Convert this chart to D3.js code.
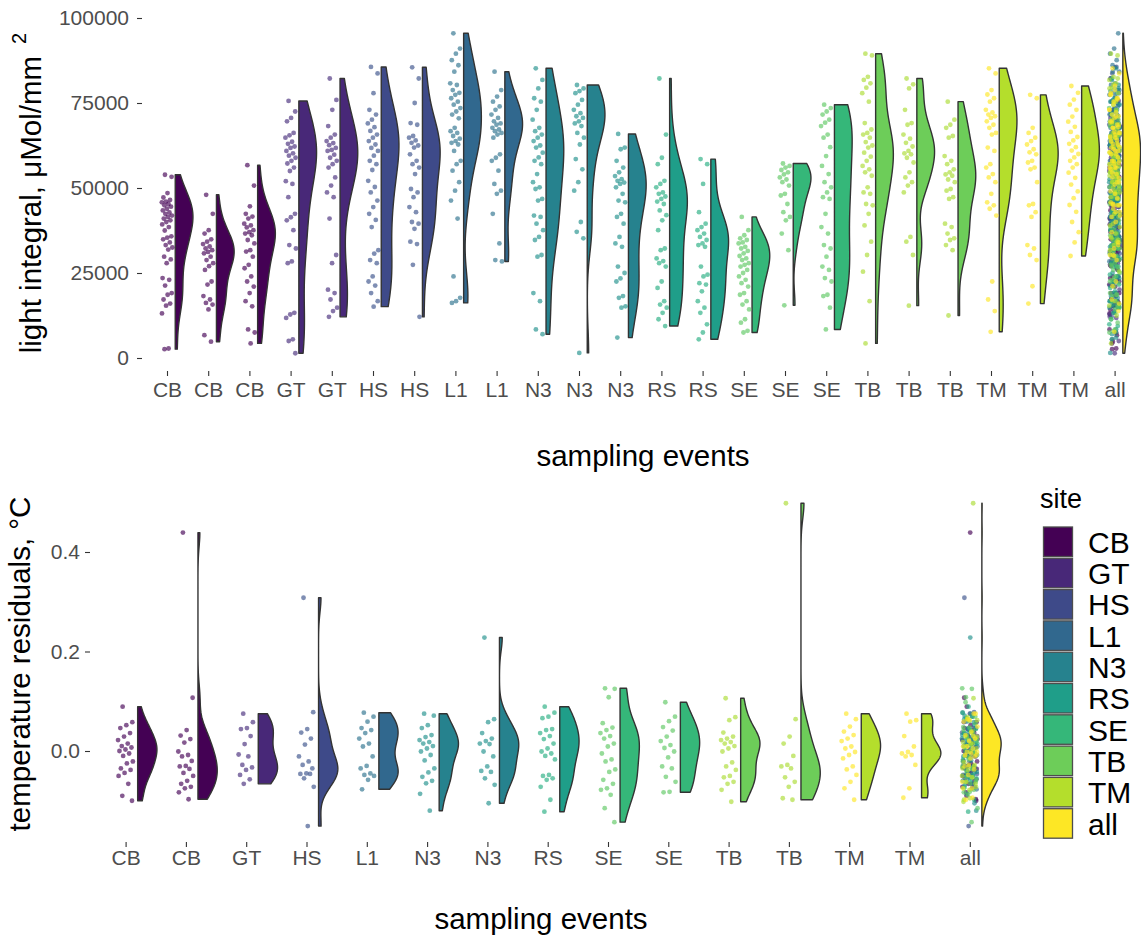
<!DOCTYPE html>
<html>
<head>
<meta charset="utf-8">
<script src="https://cdn.jsdelivr.net/npm/d3@7"></script>
<style>
  html, body { margin: 0; padding: 0; background: #ffffff; }
  svg { display: block; }
</style>
</head>
<body>
<svg id="chart" width="1141" height="937"></svg>
<script>
// ---------- sites and colours ----------
const sites = ["CB", "GT", "HS", "L1", "N3", "RS", "SE", "TB", "TM", "all"];
// violin fills: viridis over the ten legend entries
const fillColors = ["#440154", "#482878", "#3E4A89", "#31688E", "#26828E",
                    "#1F9E89", "#35B779", "#6DCD59", "#B4DE2C", "#FDE725"];
// point colours: viridis over the nine measured sites
const pointColors = ["#440154", "#472D7B", "#3B528B", "#2C728E", "#21908C",
                     "#27AD81", "#5DC863", "#AADC32", "#FDE725"];

// ---------- light integral per sampling event (thousands of µMol/mm²) ----------
const lightEvents = ["CB", "CB", "CB", "GT", "GT", "HS", "HS", "L1", "L1", "N3", "N3", "N3",
                     "RS", "RS", "SE", "SE", "SE", "TB", "TB", "TB", "TM", "TM", "TM"];
const lightCB1 = [53.9, 53.3, 48.5, 47.2, 46.5, 46, 45.8, 45.3, 44.9, 44.5, 43.9, 43.4, 42.8, 42.4, 41.9, 41.5, 41, 40.5, 40, 39.3, 38.5, 37.5, 35.8, 35.4, 34.9, 34, 33.2, 32.5, 31.9, 29.8, 29, 27.9, 23.5, 23, 21.3, 19.1, 18.6, 17.2, 16, 15.4, 13.1, 2.8, 2.6];
const lightCB2 = [48, 42.4, 37.6, 36.6, 34.9, 34.2, 33.5, 32.8, 32.2, 31.7, 31.2, 30.8, 29.8, 28.8, 27.9, 27, 25.9, 22.5, 21.6, 18.2, 17.2, 16.2, 15.7, 14.3, 6.7, 4.8];
const lightCB3 = [56.7, 50.7, 44.6, 42.4, 41.6, 41, 39.5, 39, 38.4, 37.6, 37, 36.6, 36.1, 34.7, 33.7, 31.7, 31.3, 29.8, 27.4, 26.4, 24, 22.5, 21, 19.1, 16.7, 15.2, 8.4, 7.5, 4.3];
const lightGT1 = [75.6, 72.5, 70.6, 69.6, 66.2, 65.5, 64.8, 63.6, 63, 62.2, 61.8, 60.9, 60.2, 59.5, 58.9, 58, 57.2, 56, 55, 52, 51.2, 47.3, 42.4, 41.4, 40.5, 37.6, 33.2, 32.2, 28.4, 27.9, 13.3, 12.8, 11.8, 5.5, 5, 1.4];
const lightGT2 = [82.2, 75.9, 73, 68.2, 65.7, 64.8, 63.8, 63.2, 62.6, 61.8, 61.2, 60.9, 59.8, 58.9, 58, 57, 56, 53.1, 50.7, 48.7, 47.3, 41, 30.3, 27.9, 20.1, 19.1, 17.2, 14.8, 13.8, 12.1];
const lightHS1 = [85.6, 83.7, 77.9, 73, 71.6, 70.1, 69, 67.9, 66.8, 65.7, 64.8, 63.8, 62.8, 61.8, 60.9, 59.5, 58, 57, 55.3, 52.1, 50.3, 48.7, 46.3, 44.4, 42.4, 40.6, 38.5, 31.7, 30.7, 28.8, 27.9, 24, 22.5, 21.3, 19.1, 16.7, 15.1];
const lightHS2 = [85.5, 82.2, 75, 69.1, 68.6, 65.3, 64.8, 64, 63.3, 62.5, 61.9, 59.9, 58, 57, 56, 54.1, 49.7, 48.7, 47.3, 44.4, 42.9, 40, 39.5, 38, 34.2, 33.5, 27.4, 12.1];
const lightL11 = [95.5, 91, 89.5, 87.6, 86.1, 84.2, 80.8, 80.3, 78.8, 78, 77.4, 76.4, 75.4, 74.5, 73.5, 72.5, 71.6, 70.5, 67.7, 66.7, 66.2, 65.3, 64.5, 63.8, 63.3, 62.8, 60.9, 58, 57, 55.1, 51.7, 49.2, 46.3, 41, 24, 17.7, 16.7, 16.2];
const lightL12 = [84.2, 78.8, 76.9, 75.4, 74, 73, 71.6, 70.6, 69.6, 69, 68.6, 67.7, 67.2, 66.7, 66.2, 65.7, 64.8, 59.9, 58.9, 58, 55.1, 51.2, 49.2, 48.3, 42.4, 33.7, 28.8, 28.4];
const lightN31 = [85.2, 81.8, 79.3, 76.4, 75.4, 73, 70.1, 67.7, 66.7, 65.7, 64.8, 63.8, 62.5, 61.9, 60.4, 59, 58, 57, 54.1, 51.7, 50.2, 49.7, 46.8, 46.3, 41.9, 41.5, 39.5, 37.6, 35.6, 34.7, 30.3, 29.8, 19.1, 16.7, 8.4, 7];
const lightN32 = [80.3, 79.3, 78.5, 77.9, 75.9, 74.5, 73, 72, 71.1, 70.6, 69.6, 69, 68.2, 66.2, 64.8, 62.8, 58.5, 55.5, 51.7, 49.2, 40, 37.1, 35.2, 1.5];
const lightN33 = [65.9, 61.9, 61.4, 58, 56, 54.6, 53.5, 52.6, 52.1, 51.6, 51.2, 50.2, 48.3, 46.3, 45.8, 42.4, 41.5, 39.5, 35.6, 33.7, 32.7, 26.9, 25, 23.4, 22.5, 18.2, 17.7, 15.2, 14.8, 6];
const lightRS1 = [82.2, 65.7, 58.9, 57, 52.1, 51.2, 50.2, 48.7, 48.3, 47.5, 46.8, 46, 45.3, 43.4, 42, 40.5, 37.6, 32.2, 31.7, 29.3, 28.5, 27.9, 26.9, 22.5, 20.6, 16.7, 15.7, 14.8, 13.3, 11.4, 9.4];
const lightRS2 = [58.5, 57, 51.2, 42.9, 39.5, 38.5, 37.6, 36.6, 35.6, 34.7, 33.7, 33.2, 32.7, 26.9, 24.5, 24, 22, 21.6, 19.6, 16.7, 14.8, 13.3, 9.9, 7.5, 5.5];
const lightSE1 = [41.5, 37.6, 36.1, 35.2, 34.7, 34, 33.7, 32.7, 32.2, 31.5, 30.8, 30, 29.3, 28.8, 27.9, 27.4, 26.9, 25.9, 25, 24, 23, 22, 21, 19.1, 18.6, 16.7, 15.7, 14.3, 11.4, 10.4, 8, 7.5];
const lightSE2 = [57.2, 56.5, 56, 55.3, 54.6, 54, 53.1, 52.5, 51.7, 50.7, 48.3, 47.8, 45.3, 42.9, 41.5, 40.5, 36.6, 31.7, 15.5];
const lightSE3 = [74.5, 73.5, 72.5, 71.6, 70.1, 69.2, 68.2, 65.7, 64.8, 62, 59.4, 56.5, 54.1, 51.7, 50.2, 48.7, 47.3, 46.8, 42.4, 38.5, 36.6, 33.2, 32.2, 29.8, 26.9, 25.9, 23.5, 22.5, 18.6, 18.2, 14.8, 8.4];
const lightTB1 = [89.5, 89, 82.7, 81.8, 80.8, 79.5, 77.9, 75.4, 69.1, 67.2, 66.2, 65.7, 64.8, 63.5, 62.5, 61.9, 60.4, 59.2, 58, 56.5, 55.5, 54.6, 53.6, 50.2, 48.7, 48.3, 45.3, 44.9, 42.4, 39, 34.2, 30.3, 25.4, 16.7, 4.3];
const lightTB2 = [82.2, 80.5, 79.3, 73, 69.1, 68.6, 65.7, 64.5, 63.3, 62.2, 60.9, 60.2, 59.9, 58.9, 57.5, 54.6, 53.1, 51.7, 50.7, 48.7, 35.6, 34.2, 30.3, 15.4];
const lightTB3 = [75.4, 70.1, 68.6, 67.7, 65.3, 64.8, 59.4, 58, 57, 55.5, 54.6, 54, 53.6, 52.5, 51.7, 49.7, 49.2, 47.3, 46.8, 39.5, 38.5, 36.6, 35.2, 34.7, 33.2, 31.7, 12.5];
const lightTM1 = [85.2, 83.7, 78.8, 77.5, 76.4, 75.4, 73, 72.2, 71.6, 71.1, 70.6, 69.6, 68.6, 67.7, 66.2, 65.7, 61.9, 60.9, 57, 56, 54.1, 53.1, 51.7, 48.3, 45.8, 44.9, 43.9, 41.9, 22.5, 17.2, 13.8, 7.7];
const lightTM2 = [77.4, 76.4, 67.7, 66.2, 64.8, 63.8, 62.8, 61.4, 60.5, 59.9, 58, 57.5, 56, 55.5, 51.7, 45.3, 44.9, 42.9, 41.5, 33.2, 32.2, 30.3, 28.8, 21.1, 16];
const lightTM3 = [80, 78, 76, 74.5, 73, 71, 69.5, 68, 66.5, 65, 64, 63, 62, 61, 60, 59, 58, 57, 56, 54.5, 53, 51, 49, 47, 45, 43, 40, 37, 34, 30];
const lightValues = [lightCB1, lightCB2, lightCB3, lightGT1, lightGT2, lightHS1, lightHS2,
                     lightL11, lightL12, lightN31, lightN32, lightN33, lightRS1, lightRS2,
                     lightSE1, lightSE2, lightSE3, lightTB1, lightTB2, lightTB3,
                     lightTM1, lightTM2, lightTM3];
const lightUnit = 1000;
const lightTicks = [0, 25000, 50000, 75000, 100000];

// ---------- temperature residuals per sampling event (°C) ----------
const tempEvents = ["CB", "CB", "GT", "HS", "L1", "N3", "N3", "RS", "SE", "SE", "TB", "TB", "TM", "TM"];
const tempCB1 = [0.089, 0.058, 0.052, 0.046, 0.036, 0.029, 0.022, 0.015, 0.01, 0.007, 0.003, 0, -0.005, -0.01, -0.021, -0.025, -0.035, -0.038, -0.044, -0.05, -0.066, -0.09, -0.1];
const tempCB2 = [0.439, 0.107, 0.042, 0.031, 0.024, 0.017, -0.001, -0.008, -0.011, -0.02, -0.03, -0.031, -0.036, -0.044, -0.05, -0.06, -0.066, -0.072, -0.075, -0.083, -0.097];
const tempGT  = [0.075, 0.058, 0.046, 0.044, 0.03, 0.014, -0.007, -0.011, -0.028, -0.033, -0.038, -0.048, -0.057, -0.066];
const tempHS  = [0.308, 0.078, 0.044, 0.037, 0.025, 0.013, -0.011, -0.021, -0.028, -0.035, -0.045, -0.046, -0.046, -0.055, -0.072, -0.151];
const tempL1  = [0.077, 0.069, 0.059, 0.046, 0.042, 0.036, 0.025, 0.015, 0.009, -0.011, -0.03, -0.035, -0.045, -0.048, -0.05, -0.058, -0.077];
const tempN31 = [0.075, 0.071, 0.052, 0.046, 0.032, 0.028, 0.022, 0.018, 0.015, 0.01, 0.005, -0.001, -0.008, -0.019, -0.035, -0.043, -0.052, -0.06, -0.065, -0.086, -0.12];
const tempN32 = [0.228, 0.064, 0.058, 0.036, 0.025, 0.02, 0.015, 0.014, -0.001, -0.011, -0.031, -0.04, -0.042, -0.055, -0.068, -0.105];
const tempRS  = [0.089, 0.077, 0.069, 0.066, 0.044, 0.042, 0.036, 0.03, 0.024, 0.015, 0.005, -0.001, -0.005, -0.01, -0.017, -0.048, -0.05, -0.055, -0.058, -0.072, -0.098, -0.122];
const tempSE1 = [0.126, 0.125, 0.108, 0.056, 0.047, 0.042, 0.036, 0.03, 0.025, 0.015, 0.009, -0.005, -0.017, -0.021, -0.037, -0.042, -0.058, -0.066, -0.075, -0.078, -0.088, -0.115, -0.143];
const tempSE2 = [0.098, 0.069, 0.06, 0.048, 0.041, 0.029, 0.02, 0.012, 0.006, -0.001, -0.013, -0.031, -0.035, -0.052, -0.062, -0.082, -0.083];
const tempTB1 = [0.106, 0.068, 0.062, 0.037, 0.029, 0.025, 0.022, 0.018, 0.015, 0.01, 0.005, -0.001, -0.023, -0.031, -0.038, -0.05, -0.053, -0.062, -0.066, -0.078, -0.102];
const tempTB2 = [0.498, 0.064, 0.029, 0.015, -0.01, -0.028, -0.031, -0.035, -0.053, -0.062, -0.072, -0.095, -0.098];
const tempTM1 = [0.075, 0.064, 0.049, 0.039, 0.032, 0.025, 0.02, 0.009, 0.005, -0.002, -0.008, -0.015, -0.031, -0.037, -0.048, -0.062, -0.075, -0.098];
const tempTM2 = [0.075, 0.062, 0.059, 0.03, 0.009, -0.002, -0.005, -0.008, -0.011, -0.028, -0.075, -0.094];
const tempValues = [tempCB1, tempCB2, tempGT, tempHS, tempL1, tempN31, tempN32, tempRS,
                    tempSE1, tempSE2, tempTB1, tempTB2, tempTM1, tempTM2];
const tempTicks = [0.0, 0.2, 0.4];

// ---------- helpers ----------
const FONT = '"Liberation Sans", Arial, Helvetica, sans-serif';
const svg = d3.select("#chart").style("font-family", FONT);

// Silverman's rule of thumb (R's bw.nrd0)
function bwNrd0(sorted) {
  const n = sorted.length;
  const sd = d3.deviation(sorted);
  const iqr = d3.quantile(sorted, 0.75) - d3.quantile(sorted, 0.25);
  let lo = Math.min(sd, iqr / 1.34);
  if (!(lo > 0)) lo = sd || Math.abs(sorted[0]) || 1;
  return 0.9 * lo * Math.pow(n, -0.2);
}

// gaussian kernel density trimmed to the data range, scaled to a max of 1
function densityProfile(values, n = 200) {
  const s = values.slice().sort(d3.ascending);
  const bw = bwNrd0(s);
  const lo = s[0], hi = s[s.length - 1];
  const prof = d3.range(n).map(i => {
    const y = lo + (hi - lo) * i / (n - 1);
    const d = d3.sum(s, v => Math.exp(-0.5 * ((y - v) / bw) ** 2));
    return { y, d };
  });
  const m = d3.max(prof, p => p.d);
  prof.forEach(p => { p.w = p.d / m; });
  return prof;
}

// evenly spread horizontal jitter in [-1, 1]
const spread = k => (((k * 0.6180339887) + 0.31) % 1) * 2 - 1;

// build event groups plus the pooled "all" group
function buildGroups(events, values, unit) {
  const groups = events.map((ev, i) => ({
    site: ev,
    fill: fillColors[sites.indexOf(ev)],
    points: values[i].map(v => ({ v: v * unit, site: ev }))
  }));
  const pooled = groups.flatMap(g => g.points);
  groups.push({ site: "all", fill: fillColors[9], points: pooled });
  return groups;
}

function drawPanel(cfg) {
  const { groups, x, y, nudge, halfWidth, jitter, radius } = cfg;
  const g = svg.append("g");
  const line = d3.line();

  // flat half violins
  groups.forEach((grp, i) => {
    const base = x(i) + nudge;
    const prof = densityProfile(grp.points.map(p => p.v));
    const poly = prof.map(p => [base, y(p.y)])
      .concat(prof.slice().reverse().map(p => [base + p.w * halfWidth, y(p.y)]));
    g.append("path")
      .attr("d", line(poly) + "Z")
      .attr("fill", grp.fill)
      .attr("stroke", "#333333")
      .attr("stroke-width", 1.4)
      .attr("stroke-linejoin", "round");
  });

  // jittered raw observations
  groups.forEach((grp, i) => {
    const cx = x(i);
    g.append("g").selectAll("circle")
      .data(grp.points)
      .join("circle")
      .attr("cx", (d, k) => cx + spread(k) * jitter)
      .attr("cy", d => y(d.v))
      .attr("r", radius)
      .attr("fill", d => pointColors[sites.indexOf(d.site)])
      .attr("fill-opacity", 0.65);
  });
}

function styleAxis(sel) {
  sel.select(".domain").remove();
  sel.selectAll(".tick line").attr("stroke", "#333333").attr("stroke-width", 1.1);
  sel.selectAll(".tick text")
    .attr("fill", "#4D4D4D")
    .style("font-family", FONT)
    .style("font-size", "21px");
}

// ---------- top panel: light integral ----------
const lightGroups = buildGroups(lightEvents, lightValues, lightUnit);
const lightLabels = lightGroups.map(g => g.site);
const xTop = d3.scalePoint().domain(d3.range(lightGroups.length)).range([167, 1114.6]);
const stepTop = xTop.step();
const yTop = d3.scaleLinear().domain([0, 100000]).range([358, 18]);

drawPanel({ groups: lightGroups, x: xTop, y: yTop,
            nudge: 0.2 * stepTop, halfWidth: 0.43 * stepTop, jitter: 0.13 * stepTop, radius: 2.4 });

svg.append("g").attr("transform", "translate(142,0)")
  .call(d3.axisLeft(yTop).tickValues(lightTicks).tickSize(5).tickPadding(8).tickFormat(d3.format("d")))
  .call(styleAxis);
svg.append("g").attr("transform", "translate(0,371)")
  .call(d3.axisBottom(xTop).tickSize(5).tickPadding(6).tickFormat(i => lightLabels[i]))
  .call(styleAxis);

svg.append("text")
  .attr("x", 643).attr("y", 466)
  .attr("text-anchor", "middle")
  .style("font-size", "29.5px").attr("fill", "#000")
  .text("sampling events");

const yTitleTop = svg.append("text")
  .attr("transform", "translate(41,193) rotate(-90)")
  .attr("text-anchor", "middle")
  .style("font-size", "29.5px").attr("fill", "#000");
yTitleTop.append("tspan").text("light integral, \u03BCMol/mm");
yTitleTop.append("tspan").attr("dx", 12).attr("dy", -15).style("font-size", "20px").text("2");

// ---------- bottom panel: temperature residuals ----------
const tempGroups = buildGroups(tempEvents, tempValues, 1);
const tempLabels = tempGroups.map(g => g.site);
const xBot = d3.scalePoint().domain(d3.range(tempGroups.length)).range([125.6, 969.8]);
const stepBot = xBot.step();
const yBot = d3.scaleLinear().domain([0, 0.4]).range([751, 552]);

drawPanel({ groups: tempGroups, x: xBot, y: yBot,
            nudge: 0.2 * stepBot, halfWidth: 0.32 * stepBot, jitter: 0.13 * stepBot, radius: 2.4 });

svg.append("g").attr("transform", "translate(90,0)")
  .call(d3.axisLeft(yBot).tickValues(tempTicks).tickSize(5).tickPadding(5).tickFormat(d3.format(".1f")))
  .call(styleAxis);
svg.append("g").attr("transform", "translate(0,842)")
  .call(d3.axisBottom(xBot).tickSize(5).tickPadding(3).tickFormat(i => tempLabels[i]))
  .call(styleAxis);

svg.append("text")
  .attr("x", 541).attr("y", 929)
  .attr("text-anchor", "middle")
  .style("font-size", "29.5px").attr("fill", "#000")
  .text("sampling events");

svg.append("text")
  .attr("transform", "translate(30,664) rotate(-90)")
  .attr("text-anchor", "middle")
  .style("font-size", "29.5px").attr("fill", "#000")
  .text("temperature residuals, \u00B0C");

// ---------- legend ----------
const legend = svg.append("g").attr("transform", "translate(1040,0)");
legend.append("text")
  .attr("x", 0).attr("y", 508)
  .style("font-size", "27px").attr("fill", "#000")
  .text("site");
const keyPitch = 31.3;
const keys = legend.selectAll("g.key").data(sites).join("g")
  .attr("class", "key")
  .attr("transform", (d, i) => `translate(3.5,${527 + i * keyPitch})`);
keys.append("rect")
  .attr("width", 29).attr("height", 29.5)
  .attr("fill", (d, i) => fillColors[i])
  .attr("stroke", "#4D4D4D").attr("stroke-width", 1.3);
keys.append("text")
  .attr("x", 44.5).attr("y", 15).attr("dy", "0.36em")
  .style("font-size", "30px").attr("fill", "#000")
  .text(d => d);
</script>
</body>
</html>
